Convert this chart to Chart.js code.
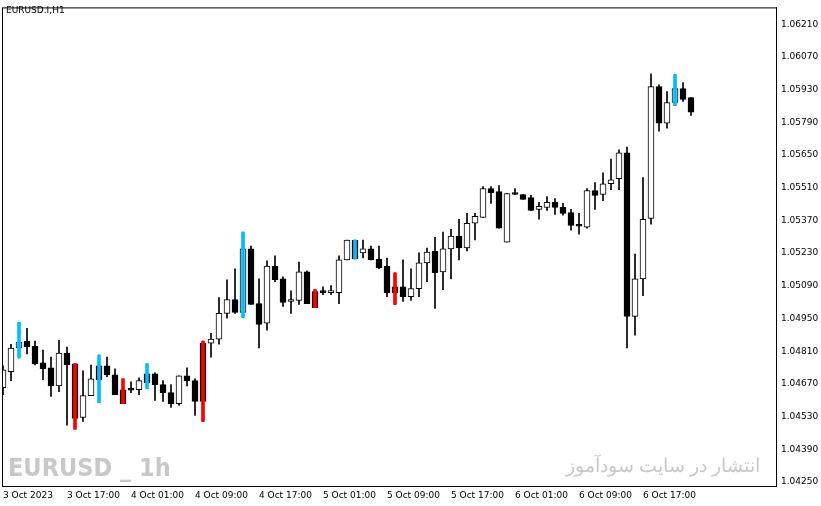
<!DOCTYPE html>
<html><head><meta charset="utf-8">
<script src="https://cdn.jsdelivr.net/npm/chart.js@4.4.0/dist/chart.umd.min.js"></script>
<style>html,body{margin:0;padding:0;background:#fff}#wrap{width:821px;height:506px}</style>
</head><body><div id="wrap"><canvas id="c" width="821" height="506"></canvas></div>
<script>
const opens =[1.04654,1.04722,1.04824,1.04853,1.04832,1.04760,1.04739,1.04662,1.04802,1.04756,1.04527,1.04620,1.04747,1.04747,1.04709,1.04645,1.04645,1.04645,1.04713,1.04713,1.04667,1.04633,1.04586,1.04705,1.04684,1.04845,1.04845,1.04862,1.04972,1.05031,1.04976,1.05248,1.05014,1.04930,1.05175,1.05120,1.05023,1.05027,1.05150,1.05065,1.05069,1.05061,1.05061,1.05201,1.05286,1.05231,1.05248,1.05205,1.05175,1.05086,1.05086,1.05044,1.05078,1.05188,1.05239,1.05150,1.05248,1.05303,1.05252,1.05358,1.05383,1.05506,1.05493,1.05277,1.05485,1.05481,1.05468,1.05417,1.05426,1.05447,1.05426,1.05404,1.05349,1.05341,1.05498,1.05481,1.05527,1.05549,1.05659,1.04959,1.05120,1.05379,1.05943,1.05786,1.05875,1.05934,1.05896];
const highs =[1.04747,1.04840,1.04934,1.04908,1.04853,1.04815,1.04785,1.04857,1.04828,1.04756,1.04726,1.04751,1.04794,1.04785,1.04735,1.04692,1.04679,1.04696,1.04756,1.04718,1.04684,1.04667,1.04705,1.04739,1.04692,1.04853,1.04887,1.05040,1.05116,1.05163,1.05320,1.05260,1.05120,1.05197,1.05218,1.05129,1.05069,1.05192,1.05154,1.05074,1.05086,1.05091,1.05218,1.05286,1.05286,1.05286,1.05260,1.05260,1.05209,1.05146,1.05201,1.05163,1.05231,1.05252,1.05298,1.05320,1.05332,1.05375,1.05400,1.05400,1.05515,1.05515,1.05519,1.05485,1.05506,1.05481,1.05477,1.05447,1.05472,1.05464,1.05443,1.05417,1.05400,1.05506,1.05532,1.05574,1.05633,1.05672,1.05684,1.05226,1.05553,1.05998,1.05951,1.05922,1.05994,1.05960,1.05896];
const lows  =[1.04624,1.04684,1.04781,1.04798,1.04751,1.04688,1.04616,1.04637,1.04493,1.04476,1.04510,1.04620,1.04590,1.04701,1.04624,1.04586,1.04633,1.04624,1.04650,1.04599,1.04595,1.04569,1.04578,1.04662,1.04535,1.04510,1.04785,1.04840,1.04951,1.04972,1.04955,1.05010,1.04824,1.04900,1.05108,1.05002,1.04972,1.05010,1.05014,1.04997,1.05052,1.05052,1.05014,1.05201,1.05205,1.05209,1.05201,1.05163,1.05044,1.05010,1.05023,1.05027,1.05044,1.05108,1.04993,1.05074,1.05120,1.05201,1.05239,1.05286,1.05383,1.05443,1.05337,1.05277,1.05481,1.05460,1.05413,1.05375,1.05413,1.05396,1.05392,1.05328,1.05311,1.05337,1.05417,1.05455,1.05502,1.05502,1.04824,1.04879,1.05048,1.05354,1.05752,1.05765,1.05862,1.05879,1.05820];
const closes=[1.04730,1.04824,1.04849,1.04828,1.04756,1.04735,1.04662,1.04802,1.04751,1.04522,1.04620,1.04692,1.04688,1.04709,1.04624,1.04586,1.04643,1.04684,1.04675,1.04667,1.04633,1.04586,1.04705,1.04684,1.04595,1.04595,1.04862,1.04972,1.05031,1.04976,1.05248,1.05010,1.04925,1.05175,1.05116,1.05019,1.05031,1.05150,1.05014,1.04997,1.05061,1.05069,1.05201,1.05286,1.05205,1.05248,1.05201,1.05167,1.05061,1.05061,1.05044,1.05078,1.05188,1.05235,1.05146,1.05248,1.05303,1.05252,1.05358,1.05387,1.05506,1.05489,1.05337,1.05485,1.05481,1.05460,1.05413,1.05430,1.05447,1.05426,1.05400,1.05349,1.05345,1.05498,1.05477,1.05527,1.05544,1.05659,1.04959,1.05120,1.05375,1.05943,1.05786,1.05875,1.05934,1.05888,1.05833];
const blueBars=[2,12,18,30,44,84];
const redBars=[9,15,25,39,49];
const timeTicks=[0,8,16,24,32,40,48,56,64,72,80];
const timeLabels=["3 Oct 2023","3 Oct 17:00","4 Oct 01:00","4 Oct 09:00","4 Oct 17:00","5 Oct 01:00","5 Oct 09:00","5 Oct 17:00","6 Oct 01:00","6 Oct 09:00","6 Oct 17:00"];
const priceTicks=[1.04250,1.04390,1.04530,1.04670,1.04810,1.04950,1.05090,1.05230,1.05370,1.05510,1.05650,1.05790,1.05930,1.06070,1.06210];

const idx=opens.map((_,i)=>i);
const wicks=idx.map(i=>({x:i,y:[lows[i],highs[i]]}));
const bodies=idx.map(i=>({x:i,y:[Math.min(opens[i],closes[i]),Math.max(opens[i],closes[i])]}));
const bodyFill=idx.map(i=>closes[i]>=opens[i]?'#ffffff':'#000000');
const blue=blueBars.map(i=>({x:i,y:[lows[i],highs[i]]}));
const red=redBars.map(i=>({x:i,y:[lows[i],highs[i]]}));

const frame={id:'frame',afterDraw(c){const a=c.chartArea,g=c.ctx;g.save();
 g.strokeStyle='#000';g.lineWidth=1;g.strokeRect(a.left+0.5,a.top+0.5,a.right-a.left,a.bottom-a.top);
 g.fillStyle='#000';g.font='9px "DejaVu Sans"';g.textBaseline='middle';g.fillText('EURUSD.I,H1',6,11);
 g.fillStyle='#c8c8c8';g.font='bold 25px "Liberation Sans Narrow", "DejaVu Sans Condensed", "Liberation Sans"';g.textBaseline='alphabetic';g.fillText('EURUSD _ 1h',8,476);
 g.font='19px "Noto Sans"';g.direction='rtl';g.textAlign='right';g.fillText('انتشار در سایت سودآموز',760,472);
 g.restore();}};

new Chart(document.getElementById('c'),{type:'bar',
 data:{datasets:[
  {data:wicks,order:3,backgroundColor:'#000',barThickness:1,grouped:false,minBarLength:1},
  {data:bodies,order:2,backgroundColor:bodyFill,borderColor:'#000',borderWidth:1,borderSkipped:false,barThickness:6,grouped:false,minBarLength:2},
  {data:blue,order:1,backgroundColor:'#00bfff',barThickness:3,grouped:false},
  {data:red,order:0,backgroundColor:'#ff0000',barThickness:3,grouped:false}]},
 options:{responsive:false,animation:false,devicePixelRatio:1,
  layout:{padding:{left:2,top:3,right:0,bottom:0}},
  plugins:{legend:{display:false},tooltip:{enabled:false}},
  scales:{
   x:{type:'linear',min:-0.125,max:96.625,offset:false,grid:{display:false,drawTicks:true,tickLength:3},border:{color:'#000'},
      afterBuildTicks:s=>{s.ticks=timeTicks.map(v=>({value:v}));},
      afterFit:s=>{s.height=20;},
      ticks:{autoSkip:false,maxRotation:0,align:'start',padding:1,color:'#000',font:{family:'DejaVu Sans',size:9},
        callback:v=>{const k=timeTicks.indexOf(v);return k>=0?timeLabels[k]:'';}}},
   y:{position:'right',min:1.04233,max:1.06282,grid:{display:false,tickLength:3},border:{color:'#000'},
      afterBuildTicks:s=>{s.ticks=priceTicks.map(v=>({value:v}));},
      afterFit:s=>{s.width=45;},
      ticks:{autoSkip:false,padding:2,color:'#000',font:{family:'DejaVu Sans',size:9},callback:v=>v.toFixed(5)}}}},
 plugins:[frame]});
</script></body></html>
